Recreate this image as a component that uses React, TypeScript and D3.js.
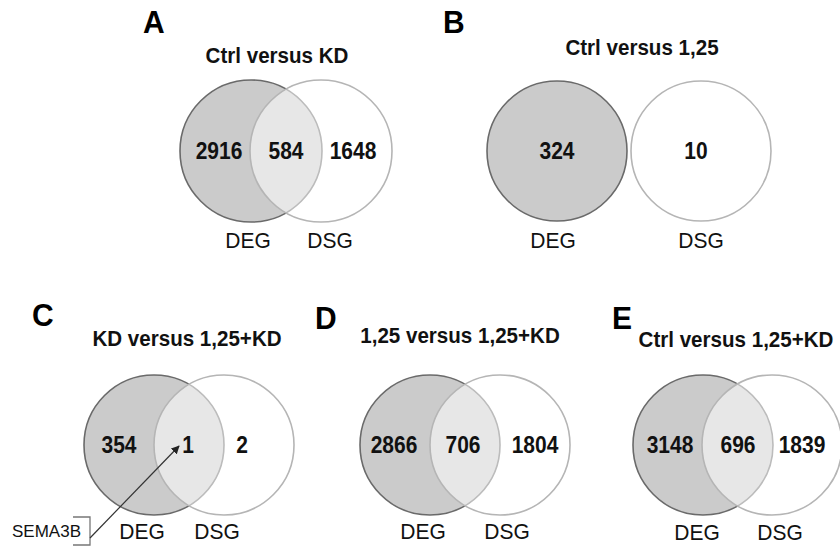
import React, { useEffect, useRef } from "react";
import * as d3 from "d3";

// ---- data ----
const panelLetters = ["A", "B", "C", "D", "E"];
const panelTitles = [
  "Ctrl versus KD",
  "Ctrl versus 1,25",
  "KD versus 1,25+KD",
  "1,25 versus 1,25+KD",
  "Ctrl versus 1,25+KD",
];
const degOnly = [2916, 324, 354, 2866, 3148];
const overlap = [584, 0, 1, 706, 696];
const dsgOnly = [1648, 10, 2, 1804, 1839];
const setNames = ["DEG", "DSG"];
const annotationLabel = "SEMA3B";

// ---- layout (positions/sizes only) ----
const layout = [
  { cx1: 251, cx2: 321, cy: 151, r: 71, lx: 143, ly: 33, tx: 277, ty: 63, sy: 248, degX: 248, dsgX: 330, nums: [219, 286, 353] },
  { cx1: 557, cx2: 701, cy: 151, r: 70, lx: 443, ly: 33, tx: 642, ty: 55, sy: 248, degX: 553, dsgX: 701, nums: [557, 0, 696] },
  { cx1: 154, cx2: 224, cy: 445, r: 70, lx: 32, ly: 326, tx: 187, ty: 346, sy: 539, degX: 142, dsgX: 217, nums: [119, 188, 242] },
  { cx1: 430, cx2: 500, cy: 445, r: 70, lx: 315, ly: 329, tx: 460, ty: 343, sy: 539, degX: 423, dsgX: 507, nums: [394, 463, 535] },
  { cx1: 703, cx2: 772, cy: 445, r: 70, lx: 612, ly: 329, tx: 736, ty: 347, sy: 540, degX: 697, dsgX: 780, nums: [670, 738, 802] },
];
const annotationPanel = 2;

const FONT = "'Liberation Sans', Arial, Helvetica, sans-serif";

export default function App() {
  const ref = useRef<SVGSVGElement | null>(null);

  useEffect(() => {
    const svg = d3.select(ref.current);
    svg.selectAll("*").remove();

    const defs = svg.append("defs");
    defs
      .append("marker")
      .attr("id", "arrowhead")
      .attr("viewBox", "0 0 10 10")
      .attr("refX", 9)
      .attr("refY", 5)
      .attr("markerWidth", 7)
      .attr("markerHeight", 7)
      .attr("orient", "auto")
      .append("path")
      .attr("d", "M0,0 L10,5 L0,10 z")
      .attr("fill", "#222");

    const panels = panelLetters.map((letter, i) => ({
      letter,
      title: panelTitles[i],
      counts: [degOnly[i], overlap[i], dsgOnly[i]],
      L: layout[i],
      disjoint: overlap[i] === 0 && layout[i].cx2 - layout[i].cx1 >= 2 * layout[i].r,
    }));

    const g = svg
      .selectAll("g.panel")
      .data(panels)
      .join("g")
      .attr("class", "panel");

    // DEG circle
    g.append("circle")
      .attr("cx", (d) => d.L.cx1)
      .attr("cy", (d) => d.L.cy)
      .attr("r", (d) => d.L.r)
      .attr("fill", "#cbcbcb")
      .attr("stroke", "#6a6a6a")
      .attr("stroke-width", 1.6);

    // DSG circle (translucent white)
    g.append("circle")
      .attr("cx", (d) => d.L.cx2)
      .attr("cy", (d) => d.L.cy)
      .attr("r", (d) => d.L.r)
      .attr("fill", "rgba(255,255,255,0.55)")
      .attr("stroke", "#b5b5b5")
      .attr("stroke-width", 1.6);

    // panel letter
    g.append("text")
      .attr("transform", (d) => `translate(${d.L.lx},${d.L.ly}) scale(1,1.05)`)
      .attr("font-family", FONT)
      .attr("font-weight", "bold")
      .attr("font-size", 30)
      .attr("fill", "#000")
      .text((d) => d.letter);

    // title
    g.append("text")
      .attr("transform", (d) => `translate(${d.L.tx},${d.L.ty}) scale(0.98,1.04)`)
      .attr("text-anchor", "middle")
      .attr("font-family", FONT)
      .attr("font-weight", "bold")
      .attr("font-size", 21)
      .attr("fill", "#111")
      .text((d) => d.title);

    // counts
    g.selectAll("text.count")
      .data((d) =>
        d.counts
          .map((c, k) => ({ c, x: d.L.nums[k], y: d.L.cy + 8, show: !(d.disjoint && k === 1) }))
          .filter((e) => e.show)
      )
      .join("text")
      .attr("class", "count")
      .attr("transform", (e) => `translate(${e.x},${e.y}) scale(1,1.1)`)
      .attr("text-anchor", "middle")
      .attr("font-family", FONT)
      .attr("font-weight", "bold")
      .attr("font-size", 21)
      .attr("fill", "#111")
      .text((e) => String(e.c));

    // set labels
    g.selectAll("text.set")
      .data((d) => [
        { t: setNames[0], x: d.L.degX, y: d.L.sy },
        { t: setNames[1], x: d.L.dsgX, y: d.L.sy },
      ])
      .join("text")
      .attr("class", "set")
      .attr("transform", (e) => `translate(${e.x},${e.y}) scale(1,1.05)`)
      .attr("text-anchor", "middle")
      .attr("font-family", FONT)
      .attr("font-size", 21)
      .attr("fill", "#111")
      .text((e) => e.t);

    // annotation (SEMA3B) in panel C
    const A = layout[annotationPanel];
    const ann = svg.append("g");
    const bx = A.cx1 - 64; // bracket x
    const line = d3.line<[number, number]>();
    ann
      .append("path")
      .attr("d", line([[bx - 17, A.cy + 72], [bx, A.cy + 72], [bx, A.cy + 100], [bx - 17, A.cy + 100]]))
      .attr("fill", "none")
      .attr("stroke", "#777")
      .attr("stroke-width", 1.3);
    ann
      .append("path")
      .attr("d", line([[bx, A.cy + 93], [A.nums[1] - 9, A.cy + 1]]))
      .attr("fill", "none")
      .attr("stroke", "#333")
      .attr("stroke-width", 1.2)
      .attr("marker-end", "url(#arrowhead)");
    ann
      .append("text")
      .attr("x", bx - 78)
      .attr("y", A.cy + 92)
      .attr("font-family", FONT)
      .attr("font-size", 17)
      .attr("fill", "#111")
      .text(annotationLabel);
  }, []);

  return (
    <svg
      ref={ref}
      width={840}
      height={547}
      style={{ position: "absolute", left: 0, top: 0, display: "block", background: "#fff" }}
    />
  );
}
